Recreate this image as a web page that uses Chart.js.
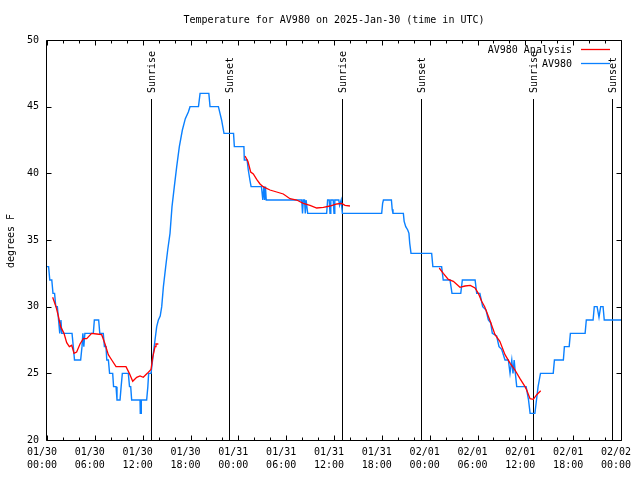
<!DOCTYPE html>
<html><head><meta charset="utf-8">
<script src="https://cdn.jsdelivr.net/npm/chart.js@4"></script>
<style>html,body{margin:0;padding:0;background:#fff}</style>
</head><body>
<canvas id="c" width="640" height="480"></canvas>
<script>
const FONT = '"DejaVu Sans Mono", "Liberation Mono", monospace';
const chartTitle = 'Temperature for AV980 on 2025-Jan-30 (time in UTC)';
const yTitle = 'degrees F';

// x axis: hours since 2025-01-30 00:00 UTC
const xTickHours = [0, 6, 12, 18, 24, 30, 36, 42, 48, 54, 60, 66, 72];
const xTickLabels = [
  ['01/30', '00:00'], ['01/30', '06:00'], ['01/30', '12:00'], ['01/30', '18:00'],
  ['01/31', '00:00'], ['01/31', '06:00'], ['01/31', '12:00'], ['01/31', '18:00'],
  ['02/01', '00:00'], ['02/01', '06:00'], ['02/01', '12:00'], ['02/01', '18:00'],
  ['02/02', '00:00']
];
const yTickValues = [20, 25, 30, 35, 40, 45, 50];
const yTickLabels = ['20', '25', '30', '35', '40', '45', '50'];

const sunriseHours = [13.0, 37.04, 61.0];
const sunsetHours = [22.87, 46.95, 70.9];

// AV980 observations
const blueHours = [
  0, 0.2, 0.35, 0.6, 0.75, 0.95, 1.1, 1.3, 1.45, 1.6, 1.75, 1.85, 3.14, 3.3, 3.45, 4.22, 4.39, 4.5, 4.62, 4.75,
  5.81, 5.94, 6.48, 6.62, 7.06, 7.2, 7.4, 7.5, 7.7, 7.85, 8.24, 8.35, 8.66, 8.78, 9.16, 9.3, 9.45, 10.2, 10.35, 10.5,
  10.62, 11.67, 11.7, 11.8, 11.83, 12.5, 12.65, 12.75, 13.05, 13.34, 13.55, 13.76, 13.97, 14.2, 14.39, 14.6, 14.89, 15.14, 15.43, 15.68,
  15.97, 16.27, 16.6, 16.98, 17.35, 17.73, 17.94, 19.0, 19.2, 20.3, 20.45, 21.5, 21.7, 21.9, 22.05, 22.2, 23.4, 23.5, 24.7, 24.75,
  25.1, 25.25, 25.45, 25.6, 26.9, 27.07, 27.2, 27.3, 27.4, 27.5, 31.95, 32.05, 32.15, 32.3, 32.4, 32.5, 32.6, 32.7, 35.08, 35.2,
  35.4, 35.5, 35.6, 35.9, 36.0, 36.1, 36.6, 36.7, 36.9, 37.05, 41.98, 42.1, 42.2, 43.2, 43.3, 43.4, 44.7, 44.8, 45.0, 45.25,
  45.4, 45.5, 45.66, 48.25, 48.4, 49.5, 49.7, 50.55, 50.8, 51.9, 52.1, 53.7, 53.9, 54.3, 54.65, 55.07, 55.36, 55.65, 55.86, 56.4,
  56.7, 57.03, 57.45, 57.87, 58.08, 58.3, 58.45, 58.6, 58.75, 58.92, 60.1, 60.4, 60.6, 61.2, 61.4, 61.6, 61.75, 61.9, 63.5, 63.65,
  64.77, 64.9, 65.5, 65.65, 67.5, 67.65, 68.5, 68.65, 69.0, 69.24, 69.45, 69.75, 69.9, 72
];
const blueTemps = [
  33, 33, 32, 32, 31, 31, 30, 30, 29, 28, 29, 28, 28, 27, 26, 26, 27, 28, 27, 28,
  28, 29, 29, 28, 28, 27, 27, 26, 26, 25, 25, 24, 24, 23, 23, 24, 25, 25, 24, 24,
  23, 23, 22, 22, 23, 23, 24, 25, 25, 26.5, 27.5, 28.5, 29, 29.3, 30, 31.5, 33, 34.25, 35.5, 37.5,
  39, 40.5, 42, 43.25, 44.1, 44.6, 45, 45, 46, 46, 45, 45, 44.5, 44, 43.5, 43, 43, 42, 42, 41,
  41, 40.25, 39.5, 39, 39, 38, 39, 38, 39, 38, 38, 37, 38, 38, 37, 38, 38, 37, 37, 38,
  38, 37, 38, 38, 37, 38, 38, 37.6, 38, 37, 37, 37.75, 38, 38, 37.3, 37, 37, 36.4, 36, 35.75,
  35.5, 34.75, 34, 34, 33, 33, 32, 32, 31, 31, 32, 32, 31, 31, 30, 29.75, 29, 28.8, 28, 27.8,
  27, 26.8, 26, 26, 25, 26, 25, 26, 25, 24, 24, 23, 22, 22, 23, 24, 24.5, 25, 25, 26,
  26, 27, 27, 28, 28, 29, 29, 30, 30, 29.2, 30, 30, 29, 29
];

// AV980 Analysis (three separate runs)
const redHours1 = [0.71, 1.13, 1.42, 1.71, 2.13, 2.47, 2.8, 3.1, 3.39, 3.72, 4.14, 4.56, 4.98, 5.6, 6.23, 6.86,
  7.28, 7.69, 8.12, 8.66, 9.91, 10.33, 10.75, 11.25, 11.67, 12.08, 12.58, 13.05, 13.26, 13.55, 13.67, 13.97];
const redTemps1 = [30.7, 30, 29.3, 28.5, 28, 27.3, 27.0, 27.1, 26.5, 26.6, 27.2, 27.6, 27.6, 28.0, 27.95, 27.9,
  27.2, 26.4, 26.0, 25.5, 25.5, 25.0, 24.4, 24.7, 24.8, 24.7, 25.0, 25.3, 26.2, 27.0, 27.2, 27.2];
const redHours2 = [24.84, 25.2, 25.55, 25.88, 26.3, 26.72, 27.1, 27.97, 28.81, 29.64, 30.48, 31.32, 32.15, 32.99,
  33.83, 34.67, 35.5, 36.34, 36.97, 37.38, 38.0];
const redTemps2 = [41.3, 40.9, 40.1, 39.95, 39.55, 39.2, 39.0, 38.75, 38.6, 38.45, 38.1, 38.0, 37.75, 37.6,
  37.4, 37.45, 37.55, 37.7, 37.75, 37.6, 37.55];
const redHours3 = [49.2, 49.71, 50.34, 50.97, 51.8, 52.43, 53.1, 53.69, 54.1, 54.52, 54.9, 55.6, 56.2, 56.8,
  57.45, 58.1, 58.7, 59.33, 59.96, 60.17, 60.59, 61.0, 61.43, 61.93];
const redTemps3 = [32.9, 32.5, 32.05, 31.9, 31.45, 31.55, 31.6, 31.4, 31.0, 30.4, 30.0, 28.9, 27.9, 27.4,
  26.4, 25.75, 25.25, 24.6, 24.0, 23.75, 23.1, 23.05, 23.4, 23.7];

const toPts = (hs, ts) => hs.map((h, i) => ({x: h, y: ts[i]}));
const redData = [].concat(
  toPts(redHours1, redTemps1), [{x: 19, y: null}],
  toPts(redHours2, redTemps2), [{x: 44, y: null}],
  toPts(redHours3, redTemps3)
);
const blueData = toPts(blueHours, blueTemps);

const crisp = v => Math.round(v) + 0.5;

const framePlugin = {
  id: 'frame',
  beforeDatasetsDraw(chart) {
    const {ctx, chartArea: a, scales: {x}} = chart;
    const h = a.bottom - a.top;
    ctx.save();
    ctx.strokeStyle = '#000';
    ctx.lineWidth = 1;
    ctx.fillStyle = '#000';
    ctx.font = '10px ' + FONT;
    const events = sunriseHours.map(t => [t, 'Sunrise']).concat(sunsetHours.map(t => [t, 'Sunset']));
    events.forEach(([t, label]) => {
      const px = crisp(x.getPixelForValue(t));
      ctx.beginPath();
      ctx.moveTo(px, a.bottom - 0.8525 * h);
      ctx.lineTo(px, a.bottom);
      ctx.stroke();
      ctx.save();
      ctx.translate(px + 1, a.bottom - 0.8675 * h);
      ctx.rotate(-Math.PI / 2);
      ctx.textAlign = 'left';
      ctx.textBaseline = 'middle';
      ctx.fillText(label, 0, 0);
      ctx.restore();
    });
    ctx.restore();
  },
  afterDraw(chart) {
    const {ctx, chartArea: a, scales: {x, y}} = chart;
    ctx.save();
    ctx.strokeStyle = '#000';
    ctx.lineWidth = 1;
    const L = crisp(a.left) - 1, R = crisp(a.right), T = crisp(a.top), B = crisp(a.bottom);
    ctx.beginPath();
    ctx.rect(L, T, R - L, B - T);
    ctx.stroke();
    // x ticks (major every 6h, minor every 2h), bottom and top
    ctx.beginPath();
    for (let hr = 0; hr <= 72; hr += 2) {
      const px = crisp(x.getPixelForValue(hr));
      const len = hr % 6 === 0 ? 5 : 3;
      ctx.moveTo(px, B); ctx.lineTo(px, B - len);
      ctx.moveTo(px, T); ctx.lineTo(px, T + len);
    }
    yTickValues.forEach(v => {
      const py = crisp(y.getPixelForValue(v));
      ctx.moveTo(L, py); ctx.lineTo(L + 5, py);
      ctx.moveTo(R, py); ctx.lineTo(R - 5, py);
    });
    ctx.stroke();
    // titles
    ctx.fillStyle = '#000';
    ctx.font = '10px ' + FONT;
    ctx.textAlign = 'center';
    ctx.textBaseline = 'middle';
    ctx.fillText(chartTitle, (a.left + a.right) / 2, 20);
    ctx.save();
    ctx.translate(11, (a.top + a.bottom) / 2 + 1);
    ctx.rotate(-Math.PI / 2);
    ctx.fillText(yTitle, 0, 0);
    ctx.restore();
    // legend
    ctx.textAlign = 'right';
    chart.data.datasets.forEach((ds, i) => {
      const ly = a.top + 9 + i * 14;
      ctx.fillStyle = '#000';
      ctx.fillText(ds.label, a.right - 49, ly + 1);
      ctx.strokeStyle = ds.borderColor;
      ctx.lineWidth = 1.3;
      ctx.beginPath();
      ctx.moveTo(a.right - 40, crisp(ly));
      ctx.lineTo(a.right - 11, crisp(ly));
      ctx.stroke();
    });
    ctx.restore();
  }
};

new Chart(document.getElementById('c'), {
  type: 'line',
  data: {
    datasets: [
      {label: 'AV980 Analysis', data: redData, borderColor: '#ff0000', borderWidth: 1.3,
       pointRadius: 0, tension: 0, spanGaps: false, fill: false},
      {label: 'AV980', data: blueData, borderColor: '#0a80ff', borderWidth: 1.4,
       pointRadius: 0, tension: 0, fill: false}
    ]
  },
  options: {
    responsive: false,
    animation: false,
    devicePixelRatio: 1,
    layout: {padding: {top: 40, right: 19, left: 0, bottom: 0}},
    plugins: {legend: {display: false}, title: {display: false}, tooltip: {enabled: false}},
    scales: {
      x: {
        type: 'linear', min: 0, max: 72,
        afterBuildTicks(s) { s.ticks = xTickHours.map(v => ({value: v})); },
        afterFit(s) { s.height = 40; s.paddingLeft = 0; s.paddingRight = 0; },
        grid: {display: false, drawTicks: false},
        border: {display: false},
        ticks: {autoSkip: false, maxRotation: 0, minRotation: 0, padding: 6, labelOffset: -5,
                color: '#000', font: {family: FONT, size: 10, lineHeight: 1.3},
                callback: (v, i) => xTickLabels[i]}
      },
      y: {
        min: 20, max: 50,
        afterBuildTicks(s) { s.ticks = yTickValues.map(v => ({value: v})); },
        afterFit(s) { s.width = 47; s.paddingTop = 0; s.paddingBottom = 0; },
        grid: {display: false, drawTicks: false},
        border: {display: false},
        ticks: {padding: 8, color: '#000', font: {family: FONT, size: 10},
                callback: (v, i) => yTickLabels[i]}
      }
    }
  },
  plugins: [framePlugin]
});
</script>
</body></html>
